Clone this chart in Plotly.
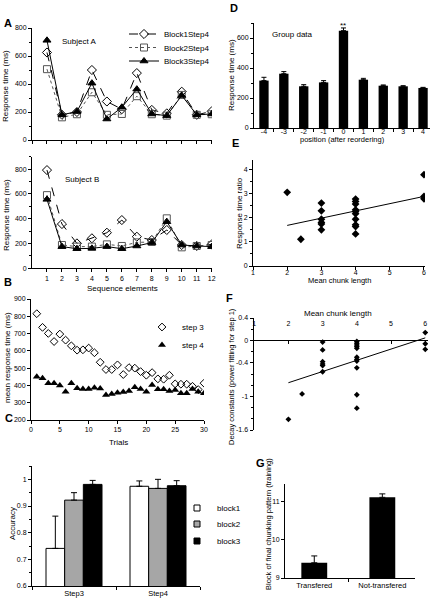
import numpy as np
import plotly.graph_objects as go

FONT = "Liberation Sans, Arial, sans-serif"
W, H = 433, 601

# ---------------- data ----------------
seq_elements = list(range(1, 13))
subjA_block1 = [625, 180, 200, 500, 275, 220, 478, 215, 190, 345, 180, 205]
subjA_block2 = [506, 162, 184, 341, 180, 186, 313, 184, 174, 322, 180, 184]
subjA_block3 = [712, 180, 203, 406, 150, 234, 363, 186, 174, 318, 180, 186]
subjB_block1 = [792, 357, 201, 242, 287, 389, 255, 228, 309, 188, 180, 193]
subjB_block2 = [590, 188, 175, 175, 193, 180, 209, 212, 403, 169, 180, 188]
subjB_block3 = [556, 175, 158, 161, 175, 158, 180, 207, 376, 188, 180, 175]

trials = list(range(1, 31))
step3_rt = [815, 736, 701, 654, 697, 662, 629, 604, 606, 616, 589, 534, 492, 492, 519,
            463, 503, 500, 480, 459, 474, 438, 436, 459, 409, 407, 407, 395, 376, 413]
step4_rt = [450, 441, 412, 412, 399, 364, 412, 383, 380, 380, 387, 382, 345, 351, 357,
            362, 368, 389, 380, 364, 403, 378, 378, 368, 374, 355, 355, 380, 364, 355]

acc_conditions = ["Step3", "Step4"]
acc_block1 = [0.741, 0.974]
acc_block1_err = [0.121, 0.020]
acc_block2 = [0.922, 0.966]
acc_block2_err = [0.028, 0.034]
acc_block3 = [0.981, 0.976]
acc_block3_err = [0.015, 0.019]

positions = [-4, -3, -2, -1, 0, 1, 2, 3, 4]
position_labels = ["-4", "-3", "-2", "-1", "0", "1", "2", "3", "4"]
group_rt = [316, 362, 278, 304, 649, 322, 282, 278, 267]
group_rt_err = [22, 14, 11, 12, 18, 9, 5, 4, 4]

chunk_lengths = [1, 2, 3, 4, 5, 6]
chunk_len_E = [2, 2.4, 3, 3, 3, 3, 3, 3, 4, 4, 4, 4, 4, 4, 4, 4, 4, 4, 6, 6, 6]
rt_ratio = [3.06, 1.11, 2.61, 2.29, 1.94, 1.81, 1.74, 1.50, 2.78, 2.68, 2.57, 2.33,
            2.26, 2.17, 1.94, 1.71, 1.64, 1.33, 3.79, 2.89, 2.79]

chunk_len_F = [2, 2.4, 3, 3, 3, 3, 3, 3, 4, 4, 4, 4, 4, 4, 4, 4, 4, 4, 4, 6, 6, 6]
decay_const = [-1.41, -0.955, -0.03, -0.17, -0.38, -0.42, -0.45, -0.56, -0.02, -0.05,
               -0.08, -0.11, -0.14, -0.30, -0.34, -0.37, -0.49, -0.97, -1.21, 0.14,
               -0.06, -0.16]

transfer_groups = ["Transfered", "Not-transfered"]
final_block = [9.40, 11.12]
final_block_err = [0.18, 0.09]

# ---------------- helpers ----------------
def fx(px):
    return px / W

def fy(py):
    return 1 - py / H

def xd(a, b):
    return [fx(a), fx(b)]

def yd(top, bottom):
    return [fy(bottom), fy(top)]

TICKFONT = dict(size=7, family=FONT, color="black")

def axis(domain, rng, **kw):
    d = dict(domain=domain, range=rng, showline=True, linecolor="black", linewidth=1,
             ticks="outside", ticklen=3, tickwidth=1, tickcolor="black",
             showgrid=False, zeroline=False, tickfont=TICKFONT, fixedrange=True,
             automargin=False)
    d.update(kw)
    return d

def MINOR(dt):
    return dict(dtick=dt, ticks="outside", ticklen=2, tickcolor="black", showgrid=False)

fig = go.Figure()

# ---------------- Panel A ----------------
styles = [
    dict(name="Block1Step4", dash="dash", symbol="diamond-open", size=7, color="black"),
    dict(name="Block2Step4", dash="dot", symbol="square-open", size=7, color="#555555"),
    dict(name="Block3Step4", dash="solid", symbol="triangle-up", size=7, color="black"),
]
for i, (st, ya, yb) in enumerate(zip(styles, [subjA_block1, subjA_block2, subjA_block3],
                                      [subjB_block1, subjB_block2, subjB_block3])):
    leg = "legend" if i == 0 else f"legend{i + 1}"
    common = dict(mode="lines+markers", name=st["name"],
                  line=dict(color=st["color"], width=1, dash=st["dash"]),
                  marker=dict(symbol=st["symbol"], size=st["size"], color=st["color"],
                              line=dict(color=st["color"], width=1)))
    fig.add_trace(go.Scatter(x=seq_elements, y=ya, legend=leg, xaxis="x", yaxis="y", **common))
    fig.add_trace(go.Scatter(x=seq_elements, y=yb, showlegend=False, xaxis="x2", yaxis="y2",
                             **common))

# ---------------- Panel B ----------------
fig.add_trace(go.Scatter(x=trials, y=step3_rt, mode="markers", name="step 3", legend="legend4",
                         marker=dict(symbol="diamond-open", size=6, color="black",
                                     line=dict(color="black", width=1)),
                         xaxis="x3", yaxis="y3"))
fig.add_trace(go.Scatter(x=trials, y=step4_rt, mode="markers", name="step 4", legend="legend5",
                         marker=dict(symbol="triangle-up", size=7, color="black"),
                         xaxis="x3", yaxis="y3"))

# ---------------- Panel C ----------------
c_colors = ["white", "#a6a6a6", "black"]
c_vals = [acc_block1, acc_block2, acc_block3]
c_errs = [acc_block1_err, acc_block2_err, acc_block3_err]
for i, (nm, col, v, e) in enumerate(zip(["block1", "block2", "block3"], c_colors, c_vals, c_errs)):
    fig.add_trace(go.Bar(x=acc_conditions, y=v, name=nm, showlegend=False, legendgroup=nm,
                         marker=dict(color=col, line=dict(color="black", width=1)),
                         error_y=dict(type="data", symmetric=False, array=e,
                                      arrayminus=[0] * len(e), color="black",
                                      thickness=1, width=3),
                         xaxis="x4", yaxis="y4"))
    fig.add_trace(go.Scatter(x=[None], y=[None], mode="markers", name=nm, legendgroup=nm,
                             legend=f"legend{6 + i}",
                             marker=dict(symbol="square", size=6, color=col,
                                         line=dict(color="black", width=1)),
                             xaxis="x4", yaxis="y4"))

# ---------------- Panel D ----------------
fig.add_trace(go.Bar(x=positions, y=group_rt, width=0.47, showlegend=False,
                     marker=dict(color="black", line=dict(width=0)),
                     error_y=dict(type="data", symmetric=False, array=group_rt_err,
                                  arrayminus=[0] * len(group_rt_err), color="black",
                                  thickness=1, width=2.5),
                     xaxis="x5", yaxis="y5"))

# ---------------- Panel E ----------------
fig.add_trace(go.Scatter(x=chunk_len_E, y=rt_ratio, mode="markers", showlegend=False,
                         marker=dict(symbol="diamond", size=6, color="black"),
                         xaxis="x6", yaxis="y6"))
kE = np.polyfit(chunk_len_E, rt_ratio, 1)
xe = np.array([min(chunk_len_E), max(chunk_len_E)])
fig.add_trace(go.Scatter(x=xe, y=np.polyval(kE, xe), mode="lines", showlegend=False,
                         line=dict(color="black", width=1), xaxis="x6", yaxis="y6"))

# ---------------- Panel F ----------------
fig.add_trace(go.Scatter(x=chunk_len_F, y=decay_const, mode="markers", showlegend=False,
                         marker=dict(symbol="diamond", size=4.5, color="black"),
                         xaxis="x7", yaxis="y7"))
kF = np.polyfit(chunk_len_F, decay_const, 1)
xf = np.array([min(chunk_len_F), max(chunk_len_F)])
fig.add_trace(go.Scatter(x=xf, y=np.polyval(kF, xf), mode="lines", showlegend=False,
                         line=dict(color="black", width=1), xaxis="x8", yaxis="y7"))

# ---------------- Panel G ----------------
fig.add_trace(go.Bar(x=transfer_groups, y=final_block, width=0.38,
                     showlegend=False, marker=dict(color="black", line=dict(width=0)),
                     error_y=dict(type="data", symmetric=False, array=final_block_err,
                                  arrayminus=[0, 0], color="black", thickness=1, width=3),
                     xaxis="x9", yaxis="y9"))

# ---------------- layout ----------------
F_top, F_bot = 318, 430
F_range = [-1.6, 0.4]
F_xrange = [0.98, 6.08]
zero_px = F_top + (F_range[1] - 0) / (F_range[1] - F_range[0]) * (F_bot - F_top)

layout = dict(
    template="none",
    width=W, height=H, margin=dict(l=0, r=0, t=0, b=0, autoexpand=False),
    paper_bgcolor="white", plot_bgcolor="rgba(0,0,0,0)",
    font=dict(family=FONT, size=8, color="black"),
    barmode="group", bargap=1 / 3, bargroupgap=0,
    # A top
    xaxis=axis(xd(32, 212), [0, 12.02], anchor="y", dtick=1, tick0=0, showticklabels=False),
    yaxis=axis(yd(28, 140), [0, 800], anchor="x", dtick=200, minor=MINOR(100)),
    # A bottom
    xaxis2=axis(xd(32, 212), [0, 12.02], anchor="y2", tickmode="array", tickvals=seq_elements),
    yaxis2=axis(yd(156.7, 268.3), [0, 900], anchor="x2", tickmode="array",
                tickvals=[0, 200, 400, 600, 800], minor=MINOR(100)),
    # B
    xaxis3=axis(xd(31, 204), [0, 30], anchor="y3", dtick=5),
    yaxis3=axis(yd(299, 420), [200, 900], anchor="x3", dtick=100),
    # C
    xaxis4=axis(xd(32, 200), [-0.5, 1.5], anchor="y4", type="category", tickson="boundaries",
                tickfont=dict(size=7.5, family=FONT, color="black")),
    yaxis4=axis(yd(466, 586), [0.6, 1.05], anchor="x4", tickmode="array",
                tickvals=[0.6, 0.7, 0.8, 0.9, 1.0], ticktext=["0.6", "0.7", "0.8", "0.9", "1"],
                minor=MINOR(0.05)),
    # D
    xaxis5=axis(xd(254, 430), [-4.5, 4.35], anchor="y5", tickmode="array", tickvals=positions,
                ticktext=position_labels, ticks="", ticklabelstandoff=-3,
                minor=dict(tickmode="array", tickvals=[p + 0.5 for p in positions[:-1]],
                           ticks="outside", ticklen=3, tickcolor="black")),
    yaxis5=axis(yd(23, 128), [0, 700], anchor="x5", tickmode="array",
                tickvals=[0, 200, 400, 600], minor=MINOR(100)),
    # E
    xaxis6=axis(xd(253, 425), [1, 6.03], anchor="y6", tickmode="array",
                tickvals=chunk_lengths, ticklabelstandoff=-3),
    yaxis6=axis(yd(160, 266), [0, 4.4], anchor="x6", tickmode="array",
                tickvals=[0, 1, 2, 3, 4], minor=MINOR(0.5)),
    # F
    xaxis7=axis(xd(253.5, 428), F_xrange, anchor="free", position=fy(zero_px),
                tickmode="array", tickvals=chunk_lengths[1:], showticklabels=False),
    xaxis8=axis(xd(253.5, 428), F_xrange, anchor="free", overlaying="x7", side="top",
                position=fy(327), showline=False, ticks="", tickmode="array",
                tickvals=chunk_lengths, ticklabeloverflow="allow"),
    yaxis7=axis(yd(F_top, F_bot), F_range, anchor="x7", tickmode="array",
                tickvals=[0.4, 0, -0.4, -1, -1.6], ticktext=["0.4", "0", "-0.4", "-1", "-1.6"],
                minor=dict(tickmode="linear", tick0=0, dtick=0.2, ticks="outside", ticklen=2,
                           tickcolor="black")),
    # G
    xaxis9=axis(xd(285, 415), [-0.43, 1.48], anchor="y9", type="category", tickson="boundaries",
                tickfont=dict(size=7.5, family=FONT, color="black")),
    yaxis9=axis(yd(484, 578), [9, 11.47], anchor="x9", tickmode="array", tickvals=[9, 10, 11]),
)

def legend_at(px, py):
    return dict(x=fx(px), y=fy(py), xanchor="left", yanchor="middle",
                bgcolor="rgba(0,0,0,0)", borderwidth=0,
                font=dict(size=8, family=FONT, color="black"))

layout["legend"] = legend_at(124, 34)
layout["legend2"] = legend_at(124, 47.5)
layout["legend3"] = legend_at(124, 61)
layout["legend4"] = legend_at(142, 327)
layout["legend5"] = legend_at(142, 345)
layout["legend6"] = legend_at(177, 508)
layout["legend7"] = legend_at(177, 524)
layout["legend8"] = legend_at(177, 541)

fig.update_layout(**layout)

# ---------------- text ----------------
def note(text, px, py, size=8, angle=0, anchor="center", bold=False):
    t = f"<b>{text}</b>" if bold else text
    fig.add_annotation(text=t, x=fx(px), y=fy(py), xref="paper", yref="paper",
                       xanchor=anchor, yanchor="middle", showarrow=False, textangle=angle,
                       font=dict(size=size, family=FONT, color="black"))

for letter, px, py in [("A", 8, 23), ("B", 8, 282), ("C", 9, 418), ("D", 234, 8),
                       ("E", 235, 143), ("F", 229, 298), ("G", 260, 463)]:
    note(letter, px, py, size=11, bold=True)

note("Subject A", 60, 42, anchor="left")
note("Subject B", 63, 180, anchor="left")
note("Group data", 270, 35, anchor="left")
fig.add_annotation(text="**", x=0, xref="x5", y=fy(19), yref="paper", showarrow=False,
                   font=dict(size=8, family=FONT, color="black"))

note("Response time (ms)", 6, 86, angle=-90)
note("Response time (ms)", 6, 215, angle=-90)
note("Sequence elements", 122, 288)
note("mean response time (ms)", 7, 358, angle=-90)
note("Trials", 118, 442)
note("Accuracy", 12, 524, angle=-90)
note("Response time (ms)", 231, 75, angle=-90)
note("position (after reordering)", 342, 139, size=7.5)
note("Response time ratio", 239, 213, angle=-90)
note("Mean chunk length", 339, 280, size=7.5)
note("Mean chunk length", 338, 313)
note("Decay constants (power fitting for step 1)", 231, 377, size=7.5, angle=-90)
note("Block of final chunking pattern (training)", 268, 524, size=7.5, angle=-90)

fig.write_html("out.html", config={"displayModeBar": False},
               post_script="document.body.style.margin='0px';")
